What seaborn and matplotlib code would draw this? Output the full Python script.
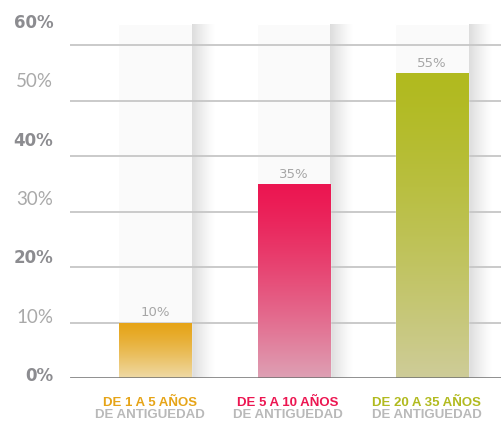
import numpy as np
import pandas as pd
import matplotlib.pyplot as plt
import matplotlib.colors as mcolors
import matplotlib.transforms as mtransforms
import seaborn as sns

# --- datos ---
categorias = ["DE 1 A 5 AÑOS", "DE 5 A 10 AÑOS", "DE 20 A 35 AÑOS"]
subtitulo = "DE ANTIGUEDAD"
porcentajes = [10, 35, 55]
colores_arriba = ["#e6a417", "#ec1651", "#b1ba1f"]
colores_abajo = ["#efdaa6", "#dea0b4", "#cecc98"]
niveles = [0, 10, 20, 30, 40, 50, 60]

sns.set_theme(style="white")
plt.rcParams["font.family"] = ["DejaVu Sans"]

df = pd.DataFrame({"categoria": categorias, "pct": porcentajes})

fig = plt.figure(figsize=(5.02, 4.21), dpi=100)
ax = fig.add_axes([70 / 502, 43 / 421, 432 / 502, 366 / 421])

# columnas de fondo (blancas) con sombra a la derecha
alto_columna = 63.8
ancho = 0.52
x = np.arange(len(categorias))
ax.bar(x, alto_columna, width=ancho + 0.01, color="#fafafa", zorder=0)
sombra = np.zeros((1, 64, 4))
sombra[..., :3] = 0.55
sombra[0, :, 3] = np.linspace(0.4, 0, 64) ** 1.3
abajo = np.zeros((32, 1, 4))
abajo[..., :3] = 0.6
abajo[:, 0, 3] = np.linspace(0.25, 0, 32)
for xi in x:
    x_der = xi + ancho / 2 + 0.005
    ax.imshow(sombra, extent=(x_der, x_der + 0.17, 0, alto_columna),
              aspect="auto", zorder=0.5, interpolation="bilinear")
    # sombra bajo la columna
    ax.imshow(abajo, extent=(xi - ancho / 2, xi + ancho / 2 + 0.06, -3.2, 0),
              aspect="auto", zorder=0.5, interpolation="bilinear")

# lineas guia
for v in niveles[1:]:
    ax.axhline(v, color="#c6c6c6", lw=1.3, zorder=1)
ax.axhline(0, color="#6f6f6f", lw=1.8, zorder=4)

# barras
sns.barplot(data=df, x="categoria", y="pct", hue="categoria",
            palette=colores_arriba, width=ancho, legend=False, ax=ax, zorder=2)

for barra, c1, c2, v in zip(ax.patches[len(categorias):], colores_arriba, colores_abajo, porcentajes):
    x0, y0 = barra.get_x(), barra.get_y()
    w, h = barra.get_width(), barra.get_height()
    grad = np.array([mcolors.to_rgb(c1), mcolors.to_rgb(c2)])
    t = np.linspace(0, 1, 128)[:, None] ** 1.3
    img = (grad[0] * (1 - t) + grad[1] * t)[:, None, :]
    im = ax.imshow(img, extent=(x0, x0 + w, y0, y0 + h), origin="upper",
                   aspect="auto", zorder=3, interpolation="bilinear")
    im.set_clip_path(barra)
    ax.text(x0 + w / 2, v + 0.6, f"{v}%", ha="center", va="bottom",
            fontsize=9.5, color="#a6a6a6", zorder=5)

ax.set_xlim(-0.614, 2.505)
ax.set_ylim(0, 66)
ax.set_xticks([])
ax.set_yticks([])
ax.set_xlabel("")
ax.set_ylabel("")
sns.despine(ax=ax, left=True, bottom=True)

# etiquetas del eje y (negrita alternada con fina)
trans_y = mtransforms.blended_transform_factory(ax.transAxes, ax.transData)
for i, v in enumerate(niveles):
    negrita = i % 2 == 0
    ax.text(-0.039, v * 1.063 + 0.3, f"{v}%", transform=trans_y,
            ha="right", va="center",
            fontsize=12 if negrita else 13.5,
            fontweight="bold" if negrita else "normal",
            family=["DejaVu Sans"] if negrita else ["Lato", "DejaVu Sans"],
            color="#8c8c90" if negrita else "#a9a9a9")

# etiquetas de categorias
trans_x = mtransforms.blended_transform_factory(ax.transData, ax.transAxes)
fuente_cat = ["Liberation Sans", "DejaVu Sans"]
for xi, cat, col in zip(x, categorias, colores_arriba):
    ax.text(xi - 0.04, -0.076, cat, transform=trans_x, ha="center", va="baseline",
            fontsize=9.5, fontweight="bold", color=col, family=fuente_cat)
    ax.text(xi - 0.04, -0.108, subtitulo, transform=trans_x, ha="center", va="baseline",
            fontsize=9.5, fontweight="bold", color="#b9b9b9", family=fuente_cat)

fig.savefig("out.png", dpi=100)
